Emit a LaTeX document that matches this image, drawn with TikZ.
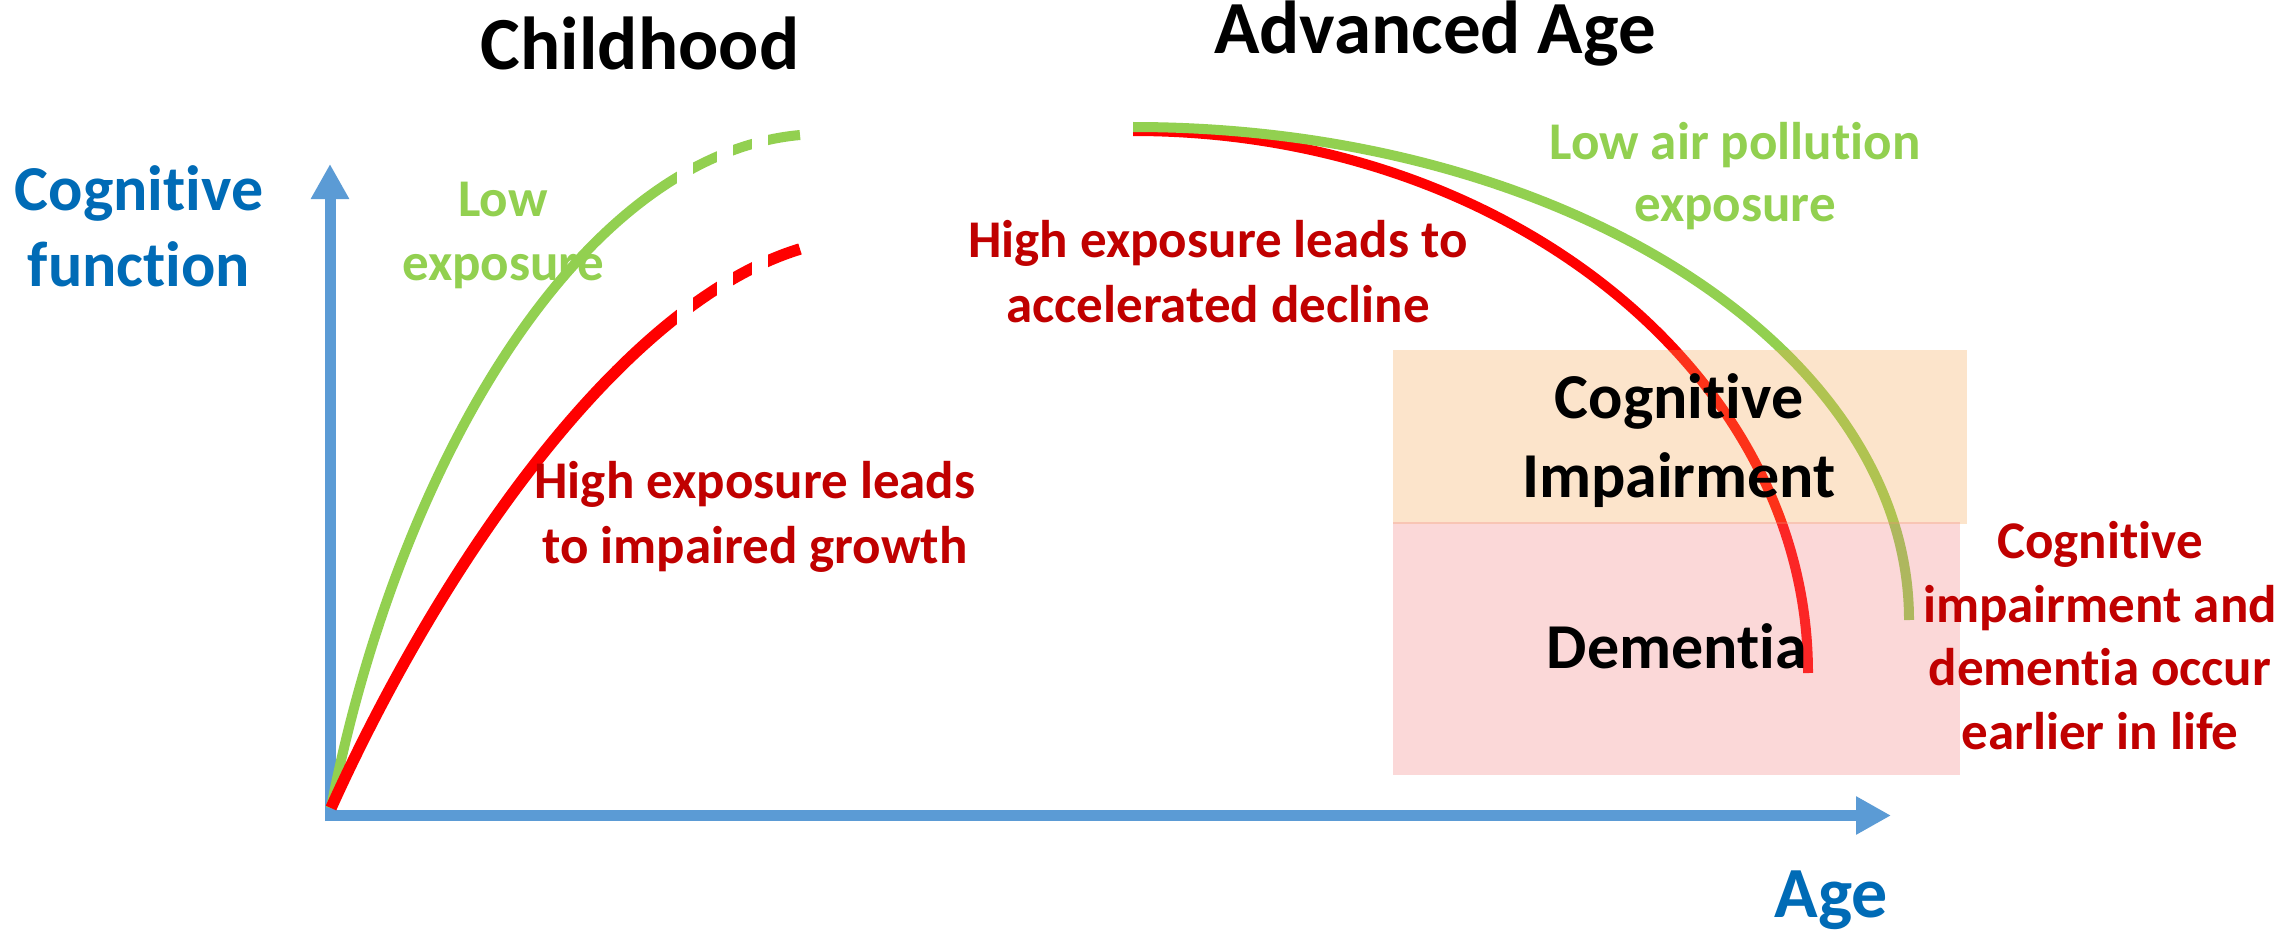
\documentclass[tikz,border=0pt]{standalone}
\usepackage{fontspec}
\setmainfont{Carlito}[Ligatures=NoCommon]
\usetikzlibrary{arrows.meta}
\definecolor{axisblue}{HTML}{5B9BD5}
\definecolor{txtblue}{RGB}{0,107,182}
\definecolor{lgreen}{HTML}{92D050}
\definecolor{dred}{HTML}{C00000}
\definecolor{pred}{HTML}{FF0000}
\definecolor{ciorange}{RGB}{248,168,85}
\definecolor{dempink}{RGB}{242,128,128}
\newcommand\myfs[2]{\fontsize{#1}{#2}\selectfont\bfseries}
\begin{document}
\begin{tikzpicture}[x=1pt,y=-1pt,
  axisline/.style={draw=axisblue, line width=11pt, -{Triangle[width=36pt,length=35pt]}},
  curve/.style={line width=10pt, line cap=butt},
  lbl/.style={inner sep=0pt, anchor=base, align=center},
  zone/.style={fill opacity=0.3, draw=none}]
\fill[white] (0,0) rectangle (2292,931);
\useasboundingbox (0,0) rectangle (2292,931);
% axes
\coordinate (yb) at (330,821);
\coordinate (yt) at (330,164);
\coordinate (xl) at (325,815.5);
\coordinate (xr) at (1891,815.5);
\draw[axisline] (yb) -- (yt);
\draw[axisline] (xl) -- (xr);
% childhood curves
\coordinate (O) at (331,808);
\coordinate (gC) at (800,135);
\coordinate (rC) at (800,249);
\draw[curve, lgreen] (O) .. controls (398,465) and (580,155) .. (gC);
\draw[curve, pred, line width=11.5pt] (O) .. controls (440,567) and (620,304) .. (rC);
% dash gaps
\fill[white] (676.7,110) rectangle (693.3,340);
\fill[white] (716.7,110) rectangle (733.3,340);
\fill[white] (751.7,110) rectangle (768.3,340);
% advanced age curves
\coordinate (rA) at (1133,131);
\coordinate (gA) at (1133,127);
\coordinate (rE) at (1808,673);
\coordinate (gE) at (1909,620);
\draw[curve, pred] (rA) .. controls (1505.8,131) and (1808,373.7) .. (rE);
\draw[curve, lgreen] (gA) .. controls (1561.6,127) and (1909,347.7) .. (gE);
% zones
\fill[zone, fill=ciorange] (1393,350) rectangle (1967,524);
\fill[zone, fill=dempink] (1393,522) rectangle (1960,775);
% labels (base anchor = baseline of the last line)
\node[lbl, font=\myfs{75}{90}] (child) at (640,70) {Childhood};
\node[lbl, font=\myfs{75}{90}] (adv) at (1435,54) {Advanced Age};
\node[lbl, font=\myfs{64}{76}, text=txtblue] (cf) at (139,286) {Cognitive\\function};
\node[lbl, font=\myfs{53}{64}, text=lgreen] (lowexp) at (503,280) {Low\\exposure};
\node[lbl, font=\myfs{53}{65}, text=dred] (highgrowth) at (755,563) {High exposure leads\\to impaired growth};
\node[lbl, font=\myfs{53}{65}, text=dred] (highdecl) at (1218,322) {High exposure leads to\\accelerated decline};
\node[lbl, font=\myfs{53}{62}, text=lgreen] (lowair) at (1735,221) {Low air pollution\\exposure};
\node[lbl, font=\myfs{64}{79}] (ci) at (1679,497) {Cognitive\\Impairment};
\node[lbl, font=\myfs{64}{79}] (dem) at (1677,668) {Dementia};
\node[lbl, font=\myfs{53}{63.5}, text=dred] (earlier) at (2100,749) {Cognitive\\impairment and\\dementia occur\\earlier in life};
\node[lbl, font=\myfs{72}{86}, text=txtblue] (age) at (1831,917) {Age};
\end{tikzpicture}
\end{document}
